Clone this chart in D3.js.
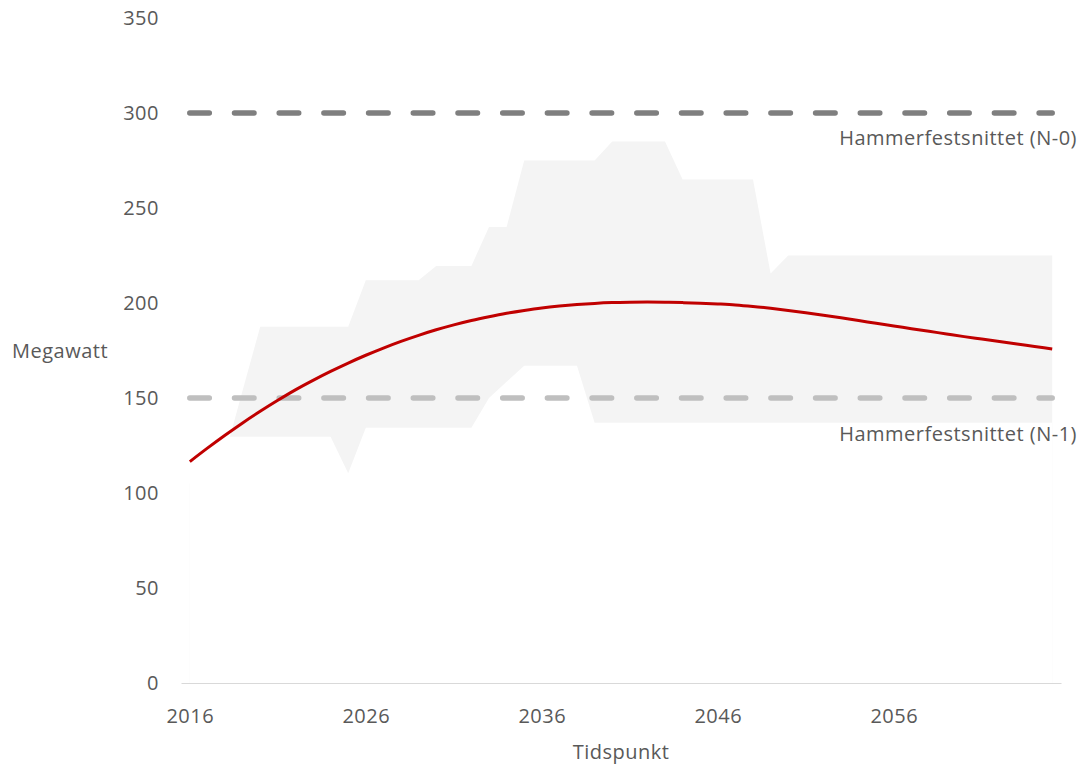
<!DOCTYPE html>
<html>
<head>
<meta charset="utf-8">
<script src="https://cdn.jsdelivr.net/npm/d3@7"></script>
<style>
  html, body { margin: 0; padding: 0; background: #ffffff; }
  svg { display: block; }
  text { font-family: "Open Sans", sans-serif; fill: #595959; }
</style>
</head>
<body>
<svg id="chart"></svg>
<script>
// Years on the category axis
const years = [
  2016, 2017, 2018, 2019, 2020, 2021, 2022, 2023, 2024, 2025,
  2026, 2027, 2028, 2029, 2030, 2031, 2032, 2033, 2034, 2035,
  2036, 2037, 2038, 2039, 2040, 2041, 2042, 2043, 2044, 2045,
  2046, 2047, 2048, 2049, 2050, 2051, 2052, 2053, 2054, 2055,
  2056, 2057, 2058, 2059, 2060, 2061, 2062, 2063, 2064, 2065
];

// Expected load (MW)
const load = [
  116.5, 123.6, 130.4, 136.9, 143.0, 148.8, 154.3, 159.3, 164.0, 168.4,
  172.5, 176.3, 179.8, 183.0, 185.9, 188.5, 190.8, 192.8, 194.6, 196.1,
  197.4, 198.4, 199.2, 199.8, 200.2, 200.4, 200.5, 200.4, 200.2, 199.9,
  199.5, 199.0, 198.2, 197.2, 196.1, 194.9, 193.6, 192.2, 190.8, 189.3,
  187.9, 186.5, 185.1, 183.7, 182.3, 181.0, 179.7, 178.4, 177.1, 175.8
];

// Uncertainty band, upper and lower bounds (MW)
const bandHigh = [
  105, 112, 120, 154, 187.5, 187.5, 187.5, 187.5, 187.5, 187.5,
  212, 212, 212, 212, 219.5, 219.5, 219.5, 240, 240, 275,
  275, 275, 275, 275, 285, 285, 285, 285, 265, 265,
  265, 265, 265, 215.5, 225, 225, 225, 225, 225, 225,
  225, 225, 225, 225, 225, 225, 225, 225, 225, 225
];
const bandLow = [
  129.6, 129.6, 129.6, 129.6, 129.6, 129.6, 129.6, 129.6, 129.6, 110.4,
  134.4, 134.4, 134.4, 134.4, 134.4, 134.4, 134.4, 150, 158.5, 167,
  167, 167, 167, 137, 137, 137, 137, 137, 137, 137,
  137, 137, 137, 137, 137, 137, 137, 137, 137, 137,
  137, 137, 137, 137, 137, 137, 137, 137, 137, 137
];

// Transfer capacity limits
const limits = [
  { name: 'Hammerfestsnittet (N-0)', value: 300, color: '#7f7f7f' },
  { name: 'Hammerfestsnittet (N-1)', value: 150, color: '#bfbfbf' }
];

const yTicks = [0, 50, 100, 150, 200, 250, 300, 350];
const xTicks = [2016, 2026, 2036, 2046, 2056];

const width = 1088, height = 767;
const margin = { top: 18, right: 27, bottom: 84, left: 181 };

const svg = d3.select('#chart')
  .attr('width', width)
  .attr('height', height);

const x = d3.scalePoint()
  .domain(years)
  .range([margin.left, width - margin.right])
  .padding(0.5);

const y = d3.scaleLinear()
  .domain([0, 350])
  .range([height - margin.bottom, margin.top]);

const rows = years.map((yr, i) => ({ year: yr, load: load[i], high: bandHigh[i], low: bandLow[i] }));

// Band: grey area up to the high bound, then white up to the low bound on top
svg.append('path')
  .datum(rows)
  .attr('fill', '#f4f4f4')
  .attr('d', d3.area().x(d => x(d.year)).y0(y(0)).y1(d => y(d.high)));

svg.append('path')
  .datum(rows)
  .attr('fill', '#ffffff')
  .attr('d', d3.area().x(d => x(d.year)).y0(y(0)).y1(d => y(d.low)));

// Axes
const xAxis = svg.append('g')
  .attr('transform', `translate(0,${y(0)})`)
  .call(d3.axisBottom(x).tickValues(xTicks).tickSize(0).tickSizeOuter(0).tickPadding(26));
xAxis.select('.domain').attr('stroke', '#d9d9d9').attr('stroke-width', 1);
xAxis.selectAll('text').attr('fill', '#595959');

const yAxis = svg.append('g')
  .attr('transform', `translate(${margin.left},0)`)
  .call(d3.axisLeft(y).tickValues(yTicks).tickSize(0).tickPadding(22));
yAxis.select('.domain').remove();
yAxis.selectAll('text').attr('fill', '#595959');

svg.selectAll('.tick text')
  .style('font-family', '"Open Sans", sans-serif')
  .style('font-size', '20px')
  .style('letter-spacing', '0.5px');

// Capacity lines
limits.forEach(l => {
  svg.append('line')
    .attr('x1', x(years[0])).attr('x2', x(years[years.length - 1]))
    .attr('y1', y(l.value)).attr('y2', y(l.value))
    .attr('stroke', l.color)
    .attr('stroke-width', 5.5)
    .attr('stroke-linecap', 'round')
    .attr('stroke-dasharray', '19.5 25.2');
});

// Load curve
svg.append('path')
  .datum(rows)
  .attr('fill', 'none')
  .attr('stroke', '#c00000')
  .attr('stroke-width', 3)
  .attr('stroke-linejoin', 'round')
  .attr('d', d3.line().x(d => x(d.year)).y(d => y(d.load)).curve(d3.curveMonotoneX));

// Limit labels
const labelBase = [145, 441];
limits.forEach((l, i) => {
  svg.append('text')
    .attr('x', 1077)
    .attr('y', labelBase[i])
    .attr('text-anchor', 'end')
    .style('font-size', '20px')
    .style('letter-spacing', '0.5px')
    .text(l.name);
});

// Axis titles
svg.append('text')
  .attr('x', (margin.left + width - margin.right) / 2)
  .attr('y', 759)
  .attr('text-anchor', 'middle')
  .style('font-size', '20px')
  .style('letter-spacing', '0.5px')
  .text('Tidspunkt');

svg.append('text')
  .attr('x', 12)
  .attr('y', 358)
  .style('font-size', '20px')
  .style('letter-spacing', '0.5px')
  .text('Megawatt');
</script>
</body>
</html>
